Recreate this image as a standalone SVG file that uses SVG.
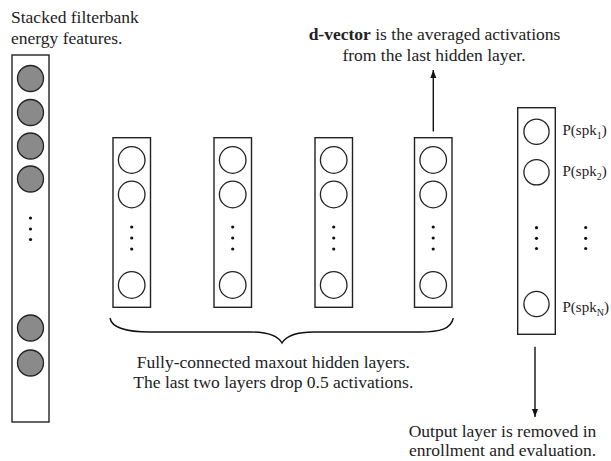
<svg xmlns="http://www.w3.org/2000/svg" width="611" height="461" viewBox="0 0 611 461">
  <defs>
    <style>
      .box { fill: #fff; stroke: #222; stroke-width: 1.4; }
      .unit { fill: #fff; stroke: #222; stroke-width: 1.3; }
      .inunit { fill: #8a8a8a; stroke: #222; stroke-width: 1.3; }
      .dot { fill: #111; }
      .edge { fill: none; stroke: #111; stroke-width: 1.4; }
      .txt { font-family: "Liberation Serif", "Times New Roman", serif; font-size: 17.5px; fill: #222; }
      .lbl { font-family: "Liberation Serif", "Times New Roman", serif; font-size: 15px; fill: #222; }
    </style>
    <marker id="arrow" markerWidth="10" markerHeight="10" refX="8" refY="5" orient="auto" markerUnits="userSpaceOnUse">
      <path d="M0,2 L8,5 L0,8 Z" fill="#111"/>
    </marker>
  </defs>

  <rect width="611" height="461" fill="#fff"/>

  <g id="input-layer">
    <rect class="box" x="12" y="55" width="37" height="367"/>
    <circle class="inunit" cx="30.5" cy="78.5" r="13"/>
    <circle class="inunit" cx="30.5" cy="112.5" r="13"/>
    <circle class="inunit" cx="30.5" cy="146" r="13"/>
    <circle class="inunit" cx="30.5" cy="179" r="13"/>
    <circle class="dot" cx="30.5" cy="218" r="1.6"/>
    <circle class="dot" cx="30.5" cy="229" r="1.6"/>
    <circle class="dot" cx="30.5" cy="239.5" r="1.6"/>
    <circle class="inunit" cx="30.5" cy="328" r="13"/>
    <circle class="inunit" cx="30.5" cy="363" r="13"/>
  </g>

  <g id="hidden-1">
    <rect class="box" x="113" y="137.7" width="37.5" height="169.6"/>
    <circle class="unit" cx="131.7" cy="160" r="13.3"/>
    <circle class="unit" cx="131.7" cy="194.5" r="13.3"/>
    <circle class="dot" cx="131.7" cy="227" r="1.6"/>
    <circle class="dot" cx="131.7" cy="238" r="1.6"/>
    <circle class="dot" cx="131.7" cy="249" r="1.6"/>
    <circle class="unit" cx="131.7" cy="285" r="13.3"/>
  </g>

  <g id="hidden-2">
    <rect class="box" x="214" y="137.7" width="37.5" height="169.6"/>
    <circle class="unit" cx="232.7" cy="160" r="13.3"/>
    <circle class="unit" cx="232.7" cy="194.5" r="13.3"/>
    <circle class="dot" cx="232.7" cy="227" r="1.6"/>
    <circle class="dot" cx="232.7" cy="238" r="1.6"/>
    <circle class="dot" cx="232.7" cy="249" r="1.6"/>
    <circle class="unit" cx="232.7" cy="285" r="13.3"/>
  </g>

  <g id="hidden-3">
    <rect class="box" x="315" y="137.7" width="37.5" height="169.6"/>
    <circle class="unit" cx="333.7" cy="160" r="13.3"/>
    <circle class="unit" cx="333.7" cy="194.5" r="13.3"/>
    <circle class="dot" cx="333.7" cy="227" r="1.6"/>
    <circle class="dot" cx="333.7" cy="238" r="1.6"/>
    <circle class="dot" cx="333.7" cy="249" r="1.6"/>
    <circle class="unit" cx="333.7" cy="285" r="13.3"/>
  </g>

  <g id="hidden-4">
    <rect class="box" x="414.5" y="137.7" width="37.5" height="169.6"/>
    <circle class="unit" cx="433.2" cy="160" r="13.3"/>
    <circle class="unit" cx="433.2" cy="194.5" r="13.3"/>
    <circle class="dot" cx="433.2" cy="227" r="1.6"/>
    <circle class="dot" cx="433.2" cy="238" r="1.6"/>
    <circle class="dot" cx="433.2" cy="249" r="1.6"/>
    <circle class="unit" cx="433.2" cy="285" r="13.3"/>
  </g>

  <g id="output-layer">
    <rect class="box" x="517.7" y="107.7" width="37.6" height="226.6"/>
    <circle class="unit" cx="536.5" cy="131.7" r="12.6"/>
    <circle class="unit" cx="536.5" cy="172.3" r="12.6"/>
    <circle class="dot" cx="536.5" cy="227.7" r="1.6"/>
    <circle class="dot" cx="536.5" cy="238.3" r="1.6"/>
    <circle class="dot" cx="536.5" cy="248.5" r="1.6"/>
    <circle class="unit" cx="536.5" cy="304" r="12.6"/>
    <text class="lbl" x="562.5" y="135">P(spk<tspan font-size="10" dy="4">1</tspan><tspan dy="-4">)</tspan></text>
    <text class="lbl" x="562.5" y="175.5">P(spk<tspan font-size="10" dy="4">2</tspan><tspan dy="-4">)</tspan></text>
    <circle class="dot" cx="585.7" cy="227.5" r="1.6"/>
    <circle class="dot" cx="585.7" cy="238.3" r="1.6"/>
    <circle class="dot" cx="585.7" cy="248.5" r="1.6"/>
    <text class="lbl" x="562.5" y="311.5">P(spk<tspan font-size="10" dy="4">N</tspan><tspan dy="-4">)</tspan></text>
  </g>

  <g id="connectors">
    <line class="edge" x1="433.3" y1="131.5" x2="433.3" y2="70" marker-end="url(#arrow)"/>
    <line class="edge" x1="535" y1="346.7" x2="535" y2="417" marker-end="url(#arrow)"/>
    <path class="edge" d="M110,318 C112,329 128,332 150,332 L250,332 C268,332 278,336 282,343 C286,336 296,332 314,332 L420,332 C440,332 451,329 453.3,318"/>
  </g>

  <g id="labels">
    <text class="txt" x="11" y="22.5">Stacked filterbank</text>
    <text class="txt" x="11" y="44">energy features.</text>
    <text class="txt" x="434.5" y="40" text-anchor="middle"><tspan font-weight="bold">d-vector</tspan> is the averaged activations</text>
    <text class="txt" x="434" y="60.5" text-anchor="middle">from the last hidden layer.</text>
    <text class="txt" x="273.3" y="368" text-anchor="middle">Fully-connected maxout hidden layers.</text>
    <text class="txt" x="273.3" y="388" text-anchor="middle">The last two layers drop 0.5 activations.</text>
    <text class="txt" x="502.5" y="437" text-anchor="middle">Output layer is removed in</text>
    <text class="txt" x="502.5" y="456" text-anchor="middle">enrollment and evaluation.</text>
  </g>
</svg>
